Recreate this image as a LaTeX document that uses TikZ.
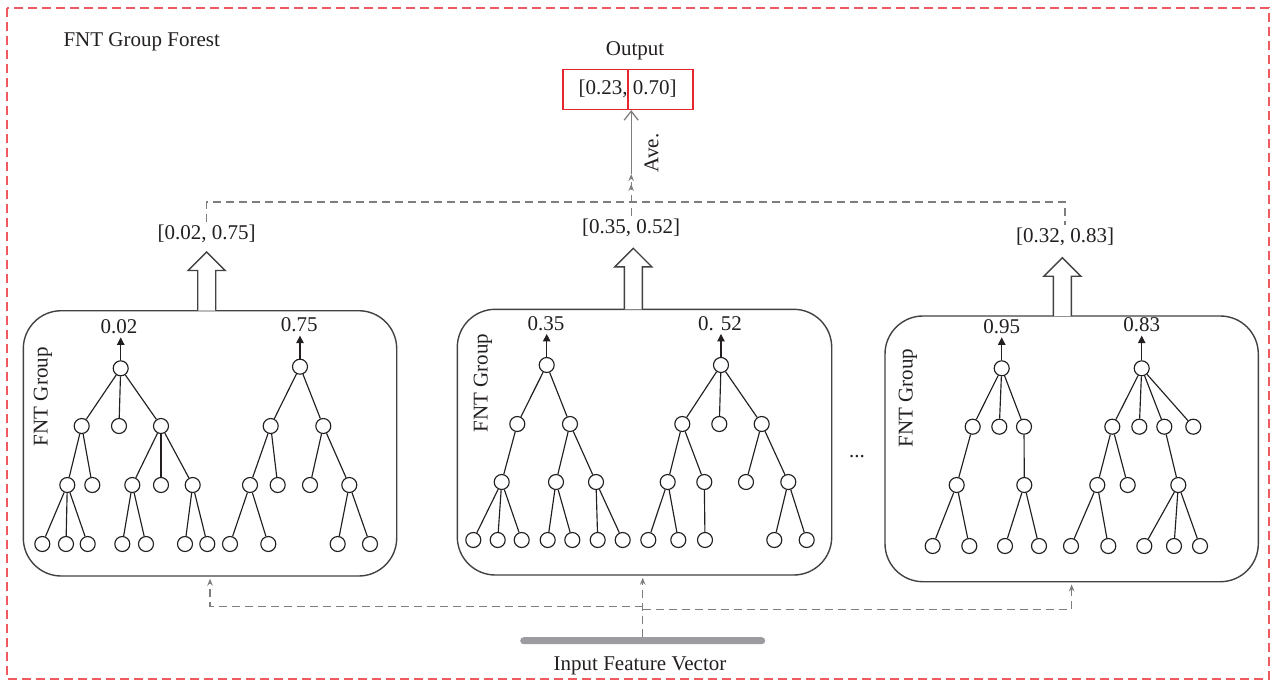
\documentclass[tikz,border=0pt]{standalone}
\usepackage{fontspec}
\setmainfont{Liberation Serif}
\usetikzlibrary{arrows.meta,calc}

\definecolor{framered}{HTML}{EE5A5F}
\definecolor{boxred}{HTML}{E5262E}
\definecolor{linkgray}{HTML}{7E7E7E}
\definecolor{bargray}{HTML}{9C9CA0}
\definecolor{ink}{HTML}{231F20}

% hollow block arrow pointing up: x, y of tip, y of tail
\newcommand\hollowup[3]{%
  \draw[hollow] (#1-9,#3) -- (#1-9,#2+18.5) -- (#1-18.5,#2+18.5) -- (#1,#2)
    -- (#1+18.5,#2+18.5) -- (#1+9,#2+18.5) -- (#1+9,#3);}

\begin{document}
\begin{tikzpicture}[x=1pt,y=-1pt,
  every node/.style={font=\fontsize{21}{25}\selectfont, text=ink},
  frame/.style={draw=framered, line width=1.5pt, dash pattern=on 9pt off 5pt},
  group/.style={draw=ink!85, line width=1.4pt, rounded corners=38pt, inner sep=0pt},
  hollow/.style={draw=ink!85, line width=1.4pt, fill=white},
  leaf/.style={circle, draw=ink, fill=white, line width=1.15pt, minimum size=15pt, inner sep=0pt},
  edge/.style={draw=ink, line width=1.15pt},
  rootout/.style={draw=ink, line width=1.15pt, -{Triangle[length=7.5pt,width=7.5pt]}},
  gdash/.style={draw=linkgray, line width=1.3pt, dash pattern=on 8pt off 5pt},
  smalltip/.style={-{Stealth[length=7pt,width=5.5pt]}},
  vertical/.style={rotate=90}
]
\useasboundingbox (0,0) rectangle (1271,681);

% outer frame and title
\draw[frame] (7,8) rectangle (1269,679);
\node[anchor=west] (title) at (60,42) {FNT Group Forest};

% averaged output
\node (outlab) at (635,51) {Output};
\node[draw=boxred, line width=1.6pt, minimum width=130pt, minimum height=40pt, inner sep=0pt] (out) at (627.7,89.3) {[0.23, 0.70]};
\draw[boxred, line width=1.6pt] (out.north) -- (out.south);

% FNT group boxes
\node[group, minimum width=373.4pt, minimum height=265.3pt] (g1) at (210,443.35) {};
\node[group, minimum width=374.4pt, minimum height=265.7pt] (g2) at (644.5,442.15) {};
\node[group, minimum width=373.3pt, minimum height=265.7pt] (g3) at (1071.65,448.85) {};
\node[vertical] (n1) at (43,396.7) {FNT Group};
\node[vertical] (n2) at (483,383) {FNT Group};
\node[vertical] (n3) at (908,398) {FNT Group};
\node[anchor=base] (more) at (857,457) {...};

% group outputs
\hollowup{206.7}{252}{310.7}
\hollowup{633.3}{248.3}{309.3}
\hollowup{1062.3}{257.7}{316}
\node (v1) at (206.7,234) {[0.02, 0.75]};
\node (v2) at (631.2,228) {[0.35, 0.52]};
\node (v3) at (1065,237) {[0.32, 0.83]};

% averaging connectors
\coordinate (hub) at (631.2,202);
\coordinate (ave) at (631.2,174);
\draw[gdash, -{Stealth[length=7pt,width=5.5pt,sep=3pt]Stealth[length=7pt,width=5.5pt]}] (v2.north) -- (ave);
\draw[gdash] (v1.north) |- (hub) -| (v3.north);
\draw[linkgray, line width=1.3pt, -{Straight Barb[length=9pt,width=14pt]}] (ave) -- (ave |- out.south);
\node[vertical] (avg) at (651.7,153) {Ave.};

% input feature vector
\node[fill=bargray, minimum width=245pt, minimum height=7pt, inner sep=0pt, rounded corners=3.5pt] (vec) at (642.7,640.7) {};
\node (inp) at (640,666) {Input Feature Vector};
\coordinate (jl) at (642.7,606.7);
\coordinate (jr) at (642.7,609.3);
\draw[gdash, smalltip, shorten >=2pt] (vec.north) -- (vec.north |- g2.south);
\draw[gdash, smalltip, shorten >=2pt] (jl) -| (g1.south);
\draw[gdash, smalltip, shorten >=2pt] (jr) -| (g3.south);

% ---------- trees of group 1 ----------
\foreach \n/\x/\y in {a0/120.7/368.3,
  a1/81.7/426, a2/119/426, a3/161/426,
  a11/67.3/485, a12/92.3/485, a31/132.3/485, a32/161/485, a33/192.7/485,
  a111/42.3/544, a112/66/544, a113/87.7/544, a311/122.3/544, a312/146/544, a331/185/544, a332/207.3/544,
  b0/300/366.7,
  b1/270.7/426, b2/323.3/426,
  b11/250/485, b12/277.7/485, b21/310/485, b22/349.3/485,
  b111/230/544, b112/268.3/544, b221/337.7/544, b222/370/544}
  \node[leaf] (\n) at (\x,\y) {};
\foreach \p/\c in {a0/a1, a0/a2, a0/a3, a1/a11, a1/a12, a3/a31, a3/a32, a3/a33,
  a11/a111, a11/a112, a11/a113, a31/a311, a31/a312, a33/a331, a33/a332,
  b0/b1, b0/b2, b1/b11, b1/b12, b2/b21, b2/b22,
  b11/b111, b11/b112, b22/b221, b22/b222}
  \draw[edge] (\p) -- (\c);

% ---------- trees of group 2 ----------
\foreach \n/\x/\y in {c0/546.7/365,
  c1/517.3/424, c2/570/424,
  c11/501.7/482, c21/556/482, c22/596/482,
  c111/473.3/540, c112/497.7/540, c113/521.7/540, c211/547.7/540, c212/572.3/540, c221/597.7/540, c222/622.7/540,
  d0/721/365,
  d1/682.3/424, d2/719.3/424, d3/761.7/424,
  d11/667.7/482, d12/704.3/482, d31/746/482, d32/788.3/482,
  d111/648.3/540, d112/678.3/540, d121/705/540, d321/774.3/540, d322/806.7/540}
  \node[leaf] (\n) at (\x,\y) {};
\foreach \p/\c in {c0/c1, c0/c2, c1/c11, c2/c21, c2/c22,
  c11/c111, c11/c112, c11/c113, c21/c211, c21/c212, c22/c221, c22/c222,
  d0/d1, d0/d2, d0/d3, d1/d11, d1/d12, d3/d31, d3/d32,
  d11/d111, d11/d112, d12/d121, d32/d321, d32/d322}
  \draw[edge] (\p) -- (\c);

% ---------- trees of group 3 ----------
\foreach \n/\x/\y in {e0/1001.7/368.3,
  e1/972.7/426.7, e2/999.3/426.7, e3/1024/426.7,
  e11/956.7/485, e31/1024.3/485,
  e111/932.7/546, e112/969.3/546, e311/1005/546, e312/1039/546,
  f0/1141.7/368.3,
  f1/1112.3/426.7, f2/1139.3/426.7, f3/1164.3/426.7, f4/1193.3/426.7,
  f11/1097.3/485, f12/1127.7/485, f31/1178.3/485,
  f111/1071/546, f112/1108.3/546, f311/1144.3/546, f312/1174/546, f313/1200/546}
  \node[leaf] (\n) at (\x,\y) {};
\foreach \p/\c in {e0/e1, e0/e2, e0/e3, e1/e11, e3/e31,
  e11/e111, e11/e112, e31/e311, e31/e312,
  f0/f1, f0/f2, f0/f3, f0/f4, f1/f11, f1/f12, f3/f31,
  f11/f111, f11/f112, f31/f311, f31/f312, f31/f313}
  \draw[edge] (\p) -- (\c);

% tree outputs
\foreach \r/\x/\y/\t in {a0/119/326.7/0.02, b0/299.3/325/0.75,
  c0/546/323.3/0.35, d0/720/323.3/{0. 52},
  e0/1001.7/326.7/0.95, f0/1141.7/325/0.83} {
  \node (\r lab) at (\x,\y) {\t};
  \draw[rootout] (\r) -- (\r |- \r lab.south);
}
\end{tikzpicture}
\end{document}
